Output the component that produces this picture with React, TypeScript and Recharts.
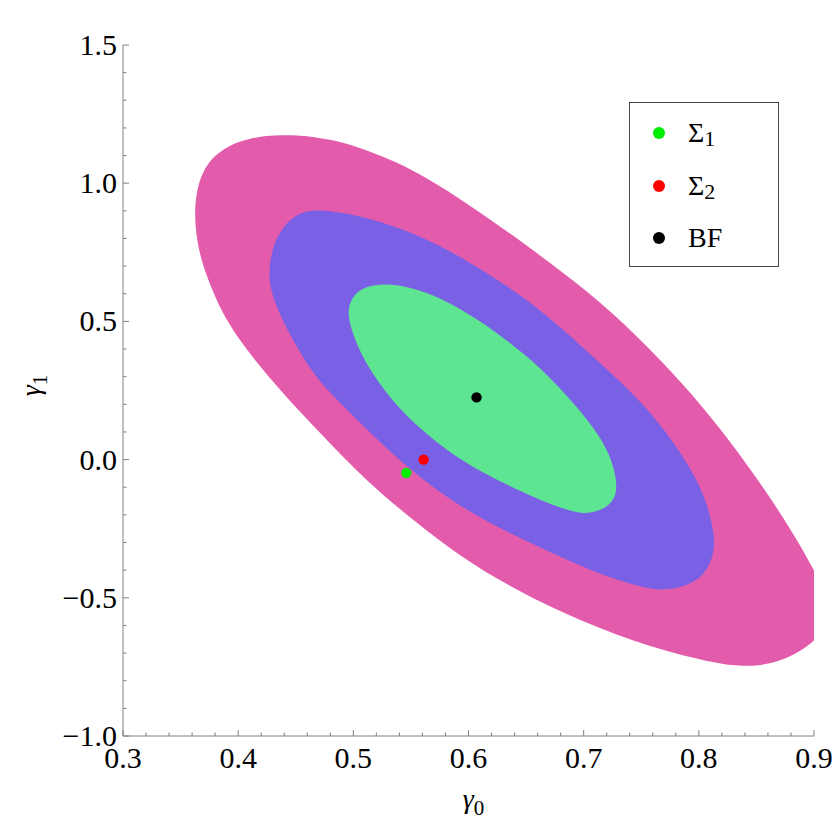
import React from "react";
import { ScatterChart, Scatter, XAxis, YAxis, Legend } from "recharts";

// axis ticks (minor + major) and labelled values
const X_TICKS = [
  0.3, 0.32, 0.34, 0.36, 0.38, 0.4, 0.42, 0.44, 0.46, 0.48, 0.5, 0.52, 0.54, 0.56, 0.58, 0.6,
  0.62, 0.64, 0.66, 0.68, 0.7, 0.72, 0.74, 0.76, 0.78, 0.8, 0.82, 0.84, 0.86, 0.88, 0.9,
];
const X_LABELS = [0.3, 0.4, 0.5, 0.6, 0.7, 0.8, 0.9];
const Y_TICKS = [
  -1.0, -0.9, -0.8, -0.7, -0.6, -0.5, -0.4, -0.3, -0.2, -0.1, 0.0, 0.1, 0.2, 0.3, 0.4, 0.5,
  0.6, 0.7, 0.8, 0.9, 1.0, 1.1, 1.2, 1.3, 1.4, 1.5,
];
const Y_LABELS = [-1.0, -0.5, 0.0, 0.5, 1.0, 1.5];

// contour outlines, [gamma0, gamma1], clockwise from the top
const OUTER: [number, number][] = [
  [0.432, 1.174], [0.453, 1.174], [0.479, 1.16], [0.508, 1.127], [0.552, 1.051],
  [0.592, 0.946], [0.631, 0.834], [0.67, 0.715], [0.714, 0.574], [0.757, 0.404],
  [0.795, 0.234], [0.827, 0.067], [0.857, -0.106], [0.883, -0.273], [0.9, -0.399],
  [0.91, -0.486], [0.914, -0.551], [0.91, -0.617], [0.898, -0.664], [0.883, -0.707],
  [0.866, -0.736], [0.844, -0.75], [0.816, -0.74], [0.757, -0.678], [0.699, -0.588],
  [0.642, -0.475], [0.592, -0.349], [0.552, -0.219], [0.512, -0.081], [0.471, 0.096],
  [0.44, 0.234], [0.414, 0.36], [0.393, 0.48], [0.38, 0.585], [0.369, 0.704],
  [0.364, 0.794], [0.362, 0.892], [0.364, 0.975], [0.369, 1.041], [0.378, 1.095],
  [0.391, 1.135], [0.41, 1.164],
];
const MIDDLE: [number, number][] = [
  [0.471, 0.907], [0.512, 0.878], [0.552, 0.82], [0.584, 0.755], [0.612, 0.686],
  [0.656, 0.567], [0.699, 0.407], [0.745, 0.234], [0.772, 0.1], [0.798, -0.063],
  [0.809, -0.182], [0.815, -0.302], [0.81, -0.381], [0.801, -0.432], [0.786, -0.461],
  [0.77, -0.472], [0.757, -0.468], [0.729, -0.436], [0.699, -0.389], [0.642, -0.28],
  [0.592, -0.172], [0.546, -0.027], [0.512, 0.107], [0.477, 0.252], [0.465, 0.313],
  [0.447, 0.433], [0.433, 0.552], [0.427, 0.632], [0.427, 0.704], [0.431, 0.787],
  [0.442, 0.86], [0.455, 0.896],
];
const INNER: [number, number][] = [
  [0.525, 0.639], [0.552, 0.624], [0.584, 0.57], [0.618, 0.48], [0.656, 0.36],
  [0.686, 0.23], [0.71, 0.111], [0.723, 0.017], [0.729, -0.074], [0.728, -0.139],
  [0.72, -0.172], [0.71, -0.19], [0.699, -0.197], [0.679, -0.175], [0.642, -0.11],
  [0.592, -0.005], [0.552, 0.132], [0.532, 0.223], [0.516, 0.313], [0.504, 0.404],
  [0.497, 0.487], [0.495, 0.541], [0.499, 0.588], [0.507, 0.621],
];

// marked points
const POINT_NAMES = ["Σ", "Σ", "BF"];
const POINT_SUBS = ["1", "2", ""];
const POINT_X = [0.546, 0.561, 0.607];
const POINT_Y = [-0.048, 0.0, 0.225];
const POINT_COLORS = ["#00ee00", "#ff0000", "#000000"];

const OUTER_COLOR = "#e35cac";
const MIDDLE_COLOR = "#7960e4";
const INNER_COLOR = "#5ee592";
const FRAME = "#808080";
const SERIF = '"Liberation Serif", "Times New Roman", serif';

const toPts = (arr: [number, number][]) => arr.map(([x, y]) => ({ x, y }));
const isMajor = (v: number, majors: number[]) => majors.some((m) => Math.abs(m - v) < 1e-6);
const fmt = (v: number) => (v < -1e-9 ? "\u2212" + Math.abs(v).toFixed(1) : Math.abs(v).toFixed(1));

const BottomTick = (props: any) => {
  const { x, y, payload } = props;
  const major = isMajor(payload.value, X_LABELS);
  return (
    <g>
      <line x1={x} x2={x} y1={y} y2={y - (major ? 6 : 3.5)} stroke={FRAME} />
      {major && (
        <text x={x} y={y + 32} textAnchor="middle" fontSize={30} fontFamily={SERIF} fill="#000">
          {fmt(payload.value)}
        </text>
      )}
    </g>
  );
};

const TopTick = (props: any) => {
  const { x, y, payload } = props;
  const major = isMajor(payload.value, X_LABELS);
  return <line x1={x} x2={x} y1={y} y2={y + (major ? 6 : 3.5)} stroke={FRAME} />;
};

const LeftTick = (props: any) => {
  const { x, y, payload } = props;
  const major = isMajor(payload.value, Y_LABELS);
  return (
    <g>
      <line x1={x} x2={x + (major ? 6 : 3.5)} y1={y} y2={y} stroke={FRAME} />
      {major && (
        <text x={x - 6} y={y + 10} textAnchor="end" fontSize={30} fontFamily={SERIF} fill="#000">
          {fmt(payload.value)}
        </text>
      )}
    </g>
  );
};

const RightTick = (props: any) => {
  const { x, y, payload } = props;
  const major = isMajor(payload.value, Y_LABELS);
  return <line x1={x} x2={x - (major ? 6 : 3.5)} y1={y} y2={y} stroke={FRAME} />;
};

const XTitle = (props: any) => {
  const vb = props.viewBox || { x: 123, y: 736, width: 691, height: 98 };
  return (
    <text x={vb.x + vb.width / 2 + 5} y={vb.y + 72} textAnchor="middle" fontSize={28} fontFamily={SERIF} fontStyle="italic" fill="#000">
      γ<tspan fontStyle="normal" fontSize={21} dy={7}>0</tspan>
    </text>
  );
};

const YTitle = (props: any) => {
  const vb = props.viewBox || { x: 0, y: 45, width: 123, height: 691 };
  const cx = 40;
  const cy = vb.y + vb.height / 2 - 5;
  return (
    <text x={cx} y={cy} transform={`rotate(-90, ${cx}, ${cy})`} textAnchor="middle" fontSize={28} fontFamily={SERIF} fontStyle="italic" fill="#000">
      γ<tspan fontStyle="normal" fontSize={21} dy={7}>1</tspan>
    </text>
  );
};

const LegendBox = () => (
  <div
    style={{
      width: 150,
      height: 165,
      boxSizing: "border-box",
      border: "1.3px solid #444",
      background: "#fff",
      paddingTop: 4,
      fontFamily: SERIF,
      fontSize: 28,
      color: "#000",
    }}
  >
    {POINT_NAMES.map((name, i) => (
      <div key={i} style={{ height: 52.5, display: "flex", alignItems: "center" }}>
        <span
          style={{
            display: "inline-block",
            width: 12,
            height: 12,
            borderRadius: 6,
            background: POINT_COLORS[i],
            marginLeft: 23,
          }}
        />
        <span style={{ marginLeft: 23, lineHeight: 1 }}>
          {name}
          {POINT_SUBS[i] && <span style={{ fontSize: 22, position: "relative", top: 4 }}>{POINT_SUBS[i]}</span>}
        </span>
      </div>
    ))}
  </div>
);

const regions = [
  { key: "outer", data: toPts(OUTER), color: OUTER_COLOR },
  { key: "middle", data: toPts(MIDDLE), color: MIDDLE_COLOR },
  { key: "inner", data: toPts(INNER), color: INNER_COLOR },
];

export default function App() {
  // fixed to the viewport so the right-hand tick label is not cut by the body box
  return (
    <div style={{ position: "fixed", left: 0, top: 0, width: 834, height: 834, background: "#fff" }}>
      <ScatterChart width={834} height={834} margin={{ top: 45, right: 20, bottom: 0, left: 0 }}>
        <XAxis
          xAxisId="b"
          type="number"
          dataKey="x"
          domain={[0.3, 0.9]}
          allowDataOverflow
          ticks={X_TICKS}
          interval={0}
          tickSize={0}
          tickMargin={0}
          tickLine={false}
          tick={BottomTick}
          axisLine={{ stroke: FRAME }}
          height={98}
          label={{ content: XTitle }}
        />
        <XAxis
          xAxisId="t"
          orientation="top"
          type="number"
          dataKey="x"
          domain={[0.3, 0.9]}
          allowDataOverflow
          ticks={X_TICKS}
          interval={0}
          tickSize={0}
          tickMargin={0}
          tickLine={false}
          tick={TopTick}
          axisLine={{ stroke: FRAME }}
          height={0}
        />
        <YAxis
          yAxisId="l"
          type="number"
          dataKey="y"
          domain={[-1, 1.5]}
          allowDataOverflow
          ticks={Y_TICKS}
          interval={0}
          tickSize={0}
          tickMargin={0}
          tickLine={false}
          tick={LeftTick}
          axisLine={{ stroke: FRAME }}
          width={123}
          label={{ content: YTitle }}
        />
        <YAxis
          yAxisId="r"
          orientation="right"
          type="number"
          dataKey="y"
          domain={[-1, 1.5]}
          allowDataOverflow
          ticks={Y_TICKS}
          interval={0}
          tickSize={0}
          tickMargin={0}
          tickLine={false}
          tick={RightTick}
          axisLine={{ stroke: FRAME }}
          width={0}
        />
        {regions.map((r) => (
          <Scatter
            key={r.key}
            xAxisId="b"
            yAxisId="l"
            data={r.data}
            fill={r.color}
            line={{ fill: r.color, stroke: "none" }}
            lineJointType="basisClosed"
            shape={() => <g />}
            legendType="none"
            isAnimationActive={false}
          />
        ))}
        {POINT_NAMES.map((name, i) => (
          <Scatter
            key={"p" + i}
            name={name + POINT_SUBS[i]}
            xAxisId="b"
            yAxisId="l"
            data={[{ x: POINT_X[i], y: POINT_Y[i] }]}
            fill={POINT_COLORS[i]}
            shape={(p: any) => <circle cx={p.cx} cy={p.cy} r={5.2} fill={POINT_COLORS[i]} />}
            isAnimationActive={false}
          />
        ))}
        <Legend
          layout="vertical"
          align="center"
          verticalAlign="middle"
          wrapperStyle={{ left: 629, top: 102, width: 150, height: 165 }}
          content={LegendBox}
        />
      </ScatterChart>
    </div>
  );
}
